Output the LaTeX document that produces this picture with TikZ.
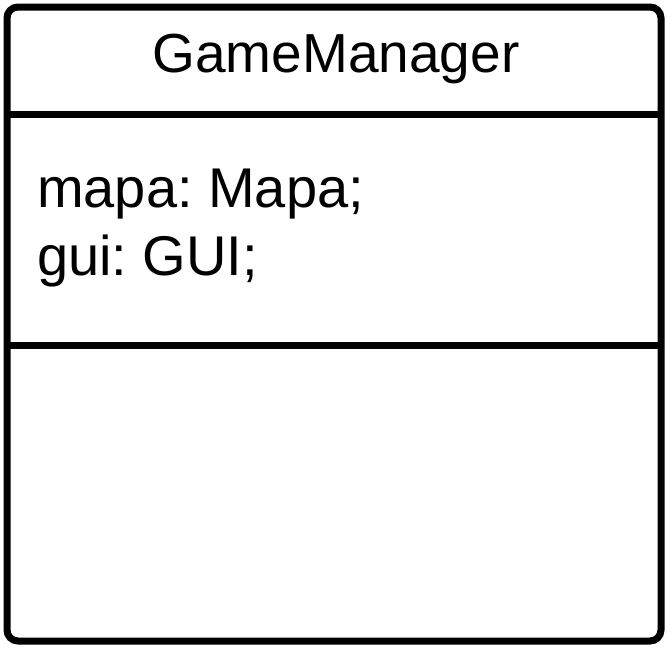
\documentclass[tikz,border=0pt]{standalone}
\usepackage{fontspec}
\setmainfont{Liberation Sans}
\usetikzlibrary{positioning}
\frenchspacing

\begin{document}
\begin{tikzpicture}[x=1pt, y=-1pt,
  classbox/.style={rectangle, draw, line width=7pt, rounded corners=11pt,
    minimum width=654pt, minimum height=634pt, inner sep=0pt},
  divider/.style={line width=7pt},
  title/.style={font=\fontsize{55}{63}\selectfont, inner sep=0pt},
  attr/.style={font=\fontsize{56}{63}\selectfont, inner sep=0pt, anchor=base west}]
  \useasboundingbox (0,0) rectangle (668,649);
  \node[classbox] (gm) at (334,324) {};
  \draw[divider] (7,114) -- (661,114);
  \draw[divider] (7,345) -- (661,345);

  \node[title, anchor=base] (name) at (336,72) {GameManager};
  \node[attr] (mapa) at (37,207) {mapa: Mapa;};
  \node[attr] (gui) at (37,275) {gui: GUI;};
\end{tikzpicture}
\end{document}
